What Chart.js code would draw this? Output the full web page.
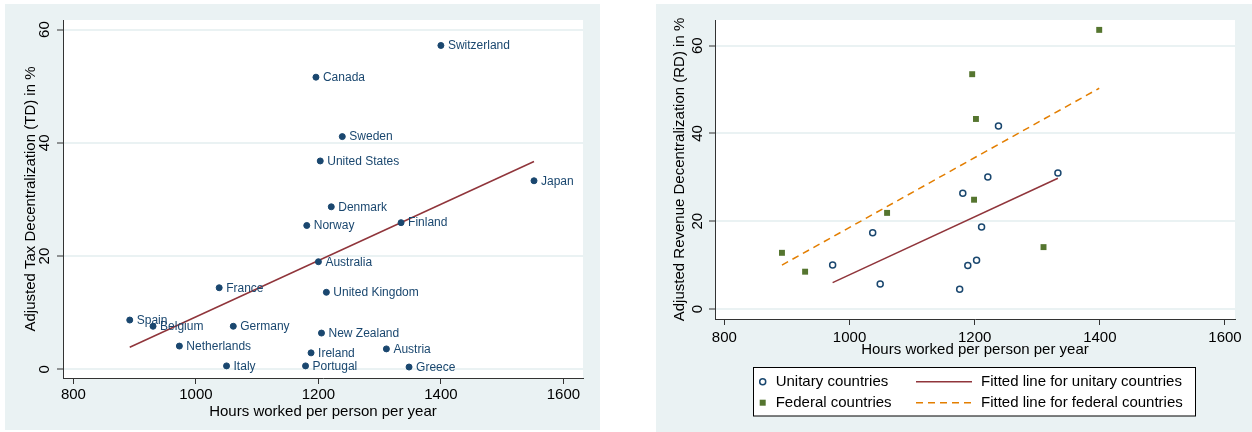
<!DOCTYPE html>
<html>
<head>
<meta charset="utf-8">
<script src="https://cdn.jsdelivr.net/npm/chart.js@4.4.1/dist/chart.umd.min.js"></script>
<style>
  html, body { margin: 0; padding: 0; background: #fff; width: 1252px; height: 432px; overflow: hidden; position: relative; }
  .panel { position: absolute; background: #eaf2f3; }
  #p1 { left: 5px; top: 4px; width: 595px; height: 426px; }
  #p2 { left: 656px; top: 4px; width: 596px; height: 428px; }
  canvas { display: block; }
</style>
</head>
<body>
<div class="panel" id="p1"><canvas id="c1" width="595" height="426"></canvas></div>
<div class="panel" id="p2"><canvas id="c2" width="596" height="428"></canvas></div>
<script>
// ---- Tax decentralization by country ----
const countries = ['Switzerland', 'Canada', 'Sweden', 'United States', 'Japan', 'Denmark', 'Norway',
  'Finland', 'Australia', 'United Kingdom', 'France', 'Spain', 'Belgium', 'Germany', 'New Zealand',
  'Netherlands', 'Austria', 'Ireland', 'Italy', 'Portugal', 'Greece'];
const hoursWorked = [1400, 1196, 1239, 1203, 1552, 1221, 1181, 1335, 1200, 1213, 1038, 892, 930, 1061,
  1205, 973, 1311, 1188, 1050, 1179, 1348];
const taxDecentralization = [57.2, 51.6, 41.1, 36.8, 33.3, 28.7, 25.4, 25.9, 19.0, 13.6, 14.4, 8.7,
  7.6, 7.6, 6.4, 4.1, 3.6, 2.9, 0.6, 0.6, 0.4];
const taxFitHours = [892, 1552];
const taxFitValues = [3.9, 36.7];

// ---- Revenue decentralization, unitary vs federal ----
const unitaryHours = [1238, 1221, 1333, 1181, 1211, 1037, 973, 1049, 1176, 1189, 1203];
const unitaryRevenue = [41.7, 30.1, 31.0, 26.4, 18.7, 17.4, 10.0, 5.7, 4.5, 9.9, 11.1];
const federalHours = [1399, 1196, 1202, 1199, 1060, 892, 929, 1310];
const federalRevenue = [63.6, 53.5, 43.3, 24.9, 21.9, 12.8, 8.5, 14.1];
const unitaryFitHours = [973, 1333];
const unitaryFitValues = [6.0, 29.8];
const federalFitHours = [892, 1399];
const federalFitValues = [10.0, 50.3];

// ---- Axis ticks and labels ----
const hourTicks = [800, 1000, 1200, 1400, 1600];
const percentTicks = [0, 20, 40, 60];
const xTitle = 'Hours worked per person per year';
const yTitleTax = 'Adjusted Tax Decentralization (TD) in %';
const yTitleRevenue = 'Adjusted Revenue Decentralization (RD) in %';
const legendLabels = ['Unitary countries', 'Federal countries',
  'Fitted line for unitary countries', 'Fitted line for federal countries'];

const FONT = "'Liberation Sans', Arial, sans-serif";
const NAVY = '#1a476f';
const MAROON = '#90353b';
const GREEN = '#55752f';
const ORANGE = '#e37e00';
const AXIS = '#333333';
const GRID = '#eaf2f3';

Chart.defaults.font.family = FONT;
Chart.defaults.animation = false;

const pts = (xs, ys) => xs.map((x, i) => ({ x: x, y: ys[i] }));

// white plot region
const plotBackground = {
  id: 'plotBackground',
  beforeDraw(chart) {
    const a = chart.chartArea, ctx = chart.ctx;
    ctx.save();
    ctx.fillStyle = '#ffffff';
    ctx.fillRect(a.left, a.top, a.right - a.left, a.bottom - a.top);
    ctx.restore();
  }
};

// tick labels: horizontal on x, rotated on y
const tickLabels = {
  id: 'tickLabels',
  afterDraw(chart, args, opts) {
    const ctx = chart.ctx, xs = chart.scales.x, ys = chart.scales.y;
    ctx.save();
    ctx.fillStyle = '#000';
    ctx.font = '15px ' + FONT;
    ctx.textAlign = 'center';
    ctx.textBaseline = 'middle';
    hourTicks.forEach(v => ctx.fillText(String(v), xs.getPixelForValue(v), xs.top + opts.xGap));
    percentTicks.forEach(v => {
      ctx.save();
      ctx.translate(ys.right - opts.yGap, ys.getPixelForValue(v));
      ctx.rotate(-Math.PI / 2);
      ctx.fillText(String(v), 0, 0);
      ctx.restore();
    });
    ctx.restore();
  }
};

function xAxis(min, max, height, titlePad) {
  return {
    type: 'linear', min: min, max: max,
    afterBuildTicks: s => { s.ticks = hourTicks.map(v => ({ value: v })); },
    afterFit: s => { s.height = height; },
    ticks: { display: false },
    grid: { drawOnChartArea: false, drawTicks: true, tickLength: 6, tickColor: AXIS, tickWidth: 1 },
    border: { display: true, color: AXIS, width: 1 },
    title: { display: true, text: xTitle, color: '#000', font: { size: 15, family: FONT },
      padding: { top: 0, bottom: titlePad } }
  };
}
function yAxis(min, max, width, title, titlePad) {
  return {
    type: 'linear', min: min, max: max,
    afterBuildTicks: s => { s.ticks = percentTicks.map(v => ({ value: v })); },
    afterFit: s => { s.width = width; },
    ticks: { display: false },
    grid: { color: GRID, lineWidth: 2, drawTicks: true, tickLength: 6, tickColor: AXIS, tickWidth: 1 },
    border: { display: true, color: AXIS, width: 1 },
    title: { display: true, text: title, color: '#000', font: { size: 15, family: FONT },
      padding: { top: titlePad, bottom: 0 } }
  };
}

// ---- left chart: country labels ----
const countryLabels = {
  id: 'countryLabels',
  afterDatasetsDraw(chart) {
    const ctx = chart.ctx, meta = chart.getDatasetMeta(0);
    ctx.save();
    ctx.font = '12px ' + FONT;
    ctx.fillStyle = NAVY;
    ctx.textAlign = 'left';
    ctx.textBaseline = 'middle';
    meta.data.forEach((p, i) => ctx.fillText(countries[i], p.x + 7, p.y + 0.5));
    ctx.restore();
  }
};

new Chart(document.getElementById('c1'), {
  type: 'scatter',
  data: {
    datasets: [
      { label: 'Countries', data: pts(hoursWorked, taxDecentralization),
        pointRadius: 3, pointBorderWidth: 1, backgroundColor: NAVY, borderColor: NAVY },
      { label: 'Fitted line', data: pts(taxFitHours, taxFitValues), showLine: true,
        pointRadius: 0, borderColor: MAROON, borderWidth: 1.5, backgroundColor: MAROON }
    ]
  },
  options: {
    responsive: false, devicePixelRatio: 1, events: [],
    layout: { padding: { top: 16, right: 17, left: 0, bottom: 0 } },
    plugins: { legend: { display: false }, tooltip: { enabled: false },
      tickLabels: { xGap: 17.3, yGap: 18 } },
    scales: {
      x: xAxis(783, 1632, 52, 9),
      y: yAxis(-1.54, 61.7, 58, yTitleTax, 17)
    }
  },
  plugins: [plotBackground, tickLabels, countryLabels]
});

// ---- right chart: framed legend below the plot ----
const boxLegend = {
  id: 'boxLegend',
  afterDraw(chart) {
    const ctx = chart.ctx, ds = chart.data.datasets;
    const rows = [377.7, 398.7];
    ctx.save();
    ctx.fillStyle = '#fff';
    ctx.fillRect(97.5, 363.5, 442, 48.5);
    ctx.strokeStyle = '#000';
    ctx.lineWidth = 1;
    ctx.strokeRect(97.5, 363.5, 442, 48.5);
    ctx.font = '15px ' + FONT;
    ctx.fillStyle = '#000';
    ctx.textAlign = 'left';
    ctx.textBaseline = 'middle';
    // markers
    ctx.beginPath();
    ctx.arc(106.7, rows[0], 3, 0, Math.PI * 2);
    ctx.strokeStyle = ds[0].borderColor;
    ctx.lineWidth = ds[0].pointBorderWidth;
    ctx.stroke();
    ctx.fillStyle = ds[1].backgroundColor;
    ctx.fillRect(103.7, rows[1] - 3, 6, 6);
    // lines
    [2, 3].forEach((k, j) => {
      ctx.beginPath();
      ctx.strokeStyle = ds[k].borderColor;
      ctx.lineWidth = ds[k].borderWidth;
      ctx.setLineDash(ds[k].borderDash || []);
      ctx.moveTo(260, rows[j]);
      ctx.lineTo(316, rows[j]);
      ctx.stroke();
    });
    ctx.setLineDash([]);
    ctx.fillStyle = '#000';
    ctx.fillText(ds[0].label, 119.7, rows[0]);
    ctx.fillText(ds[1].label, 119.7, rows[1]);
    ctx.fillText(ds[2].label, 325, rows[0]);
    ctx.fillText(ds[3].label, 325, rows[1]);
    ctx.restore();
  }
};

new Chart(document.getElementById('c2'), {
  type: 'scatter',
  data: {
    datasets: [
      { label: legendLabels[0], data: pts(unitaryHours, unitaryRevenue), pointStyle: 'circle',
        pointRadius: 3, pointBorderWidth: 1.5, borderColor: NAVY, backgroundColor: 'rgba(0,0,0,0)' },
      { label: legendLabels[1], data: pts(federalHours, federalRevenue), pointStyle: 'rect',
        pointRadius: 4.2, pointBorderWidth: 0, borderColor: GREEN, backgroundColor: GREEN },
      { label: legendLabels[2], data: pts(unitaryFitHours, unitaryFitValues), showLine: true,
        pointRadius: 0, borderColor: MAROON, borderWidth: 1.5, backgroundColor: MAROON },
      { label: legendLabels[3], data: pts(federalFitHours, federalFitValues), showLine: true,
        pointRadius: 0, borderColor: ORANGE, borderWidth: 1.5, borderDash: [7, 5], backgroundColor: ORANGE }
    ]
  },
  options: {
    responsive: false, devicePixelRatio: 1, events: [],
    layout: { padding: { top: 16, right: 17, left: 0, bottom: 73 } },
    plugins: { legend: { display: false }, tooltip: { enabled: false },
      tickLabels: { xGap: 18.5, yGap: 16.7 } },
    scales: {
      x: xAxis(785, 1616, 40, 0),
      y: yAxis(-2.28, 65.85, 59, yTitleRevenue, 14.5)
    }
  },
  plugins: [plotBackground, tickLabels, boxLegend]
});
</script>
</body>
</html>
